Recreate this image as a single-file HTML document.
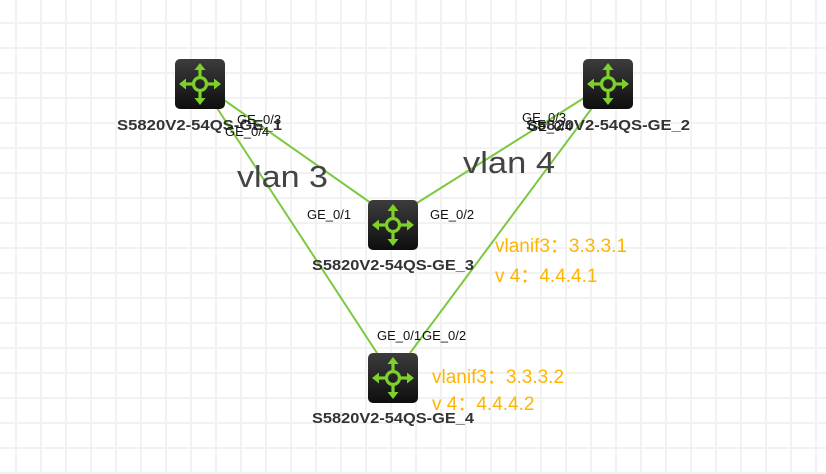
<!DOCTYPE html>
<html><head><meta charset="utf-8"><style>
html,body{margin:0;padding:0;background:#fff;}
svg{display:block;}
</style></head><body>
<svg width="826" height="474" viewBox="0 0 826 474" xmlns="http://www.w3.org/2000/svg">
<defs>
<pattern id="g" x="15" y="22" width="25" height="25" patternUnits="userSpaceOnUse">
<rect x="0" y="0" width="2" height="25" fill="#f2f2f2"/>
<rect x="0" y="0" width="25" height="2" fill="#f2f2f2"/>
</pattern>
<linearGradient id="ig" x1="0" y1="0" x2="0" y2="1">
<stop offset="0" stop-color="#3c3c3c"/><stop offset="1" stop-color="#0e0e0e"/>
</linearGradient>
<g id="icon">
<rect x="0" y="0" width="50" height="50" rx="5" fill="url(#ig)"/>
<g stroke="#7ed02a" stroke-width="3.2" fill="none" stroke-linecap="butt">
<circle cx="25" cy="25" r="6.5"/>
<line x1="25" y1="18.5" x2="25" y2="8"/><line x1="25" y1="31.5" x2="25" y2="42"/>
<line x1="18.5" y1="25" x2="8" y2="25"/><line x1="31.5" y1="25" x2="42" y2="25"/>
</g>
<g fill="#7ed02a">
<polygon points="25,4 19.5,11 30.5,11"/><polygon points="25,46 19.5,39 30.5,39"/>
<polygon points="4,25 11,19.5 11,30.5"/><polygon points="46,25 39,19.5 39,30.5"/>
</g>
</g>
</defs>
<rect width="826" height="474" fill="url(#g)"/>
<g stroke="#7cc940" stroke-width="2">
<line x1="224" y1="100" x2="378" y2="208"/>
<line x1="217" y1="108" x2="377" y2="353"/>
<line x1="584" y1="98" x2="409" y2="208"/>
<line x1="592" y1="108" x2="410" y2="353"/>
</g>
<use href="#icon" x="175" y="59"/>
<use href="#icon" x="583" y="59"/>
<use href="#icon" x="368" y="200"/>
<use href="#icon" x="368" y="353"/>
<g font-family="Liberation Sans, Arial, sans-serif" font-weight="bold" font-size="15" fill="#333">
<text x="117" y="130" textLength="165" lengthAdjust="spacingAndGlyphs">S5820V2-54QS-GE_1</text>
<text x="526" y="130" textLength="164" lengthAdjust="spacingAndGlyphs">S5820V2-54QS-GE_2</text>
<text x="312" y="270" textLength="162" lengthAdjust="spacingAndGlyphs">S5820V2-54QS-GE_3</text>
<text x="312" y="423" textLength="162" lengthAdjust="spacingAndGlyphs">S5820V2-54QS-GE_4</text>
</g>
<g font-family="Liberation Sans, Arial, sans-serif" font-size="13" fill="#111">
<text x="237" y="124">GE_0/3</text>
<text x="225" y="136">GE_0/4</text>
<text x="522" y="122">GE_0/3</text>
<text x="528" y="131">GE_0/4</text>
<text x="307" y="219">GE_0/1</text>
<text x="430" y="219">GE_0/2</text>
<text x="377" y="340">GE_0/1</text>
<text x="422" y="340">GE_0/2</text>
</g>
<g font-family="Liberation Sans, Arial, sans-serif" font-size="31" fill="#444">
<text x="237" y="187" textLength="91" lengthAdjust="spacingAndGlyphs">vlan 3</text>
<text x="463" y="173" textLength="92" lengthAdjust="spacingAndGlyphs">vlan 4</text>
</g>
<g font-family="Liberation Sans, 'Noto Sans CJK SC', sans-serif" font-size="19" fill="#ffb400">
<text x="495" y="252">vlanif3：3.3.3.1</text>
<text x="495" y="282">v 4：4.4.4.1</text>
<text x="432" y="383">vlanif3：3.3.3.2</text>
<text x="432" y="410">v 4：4.4.4.2</text>
</g>
</svg>
</body></html>
